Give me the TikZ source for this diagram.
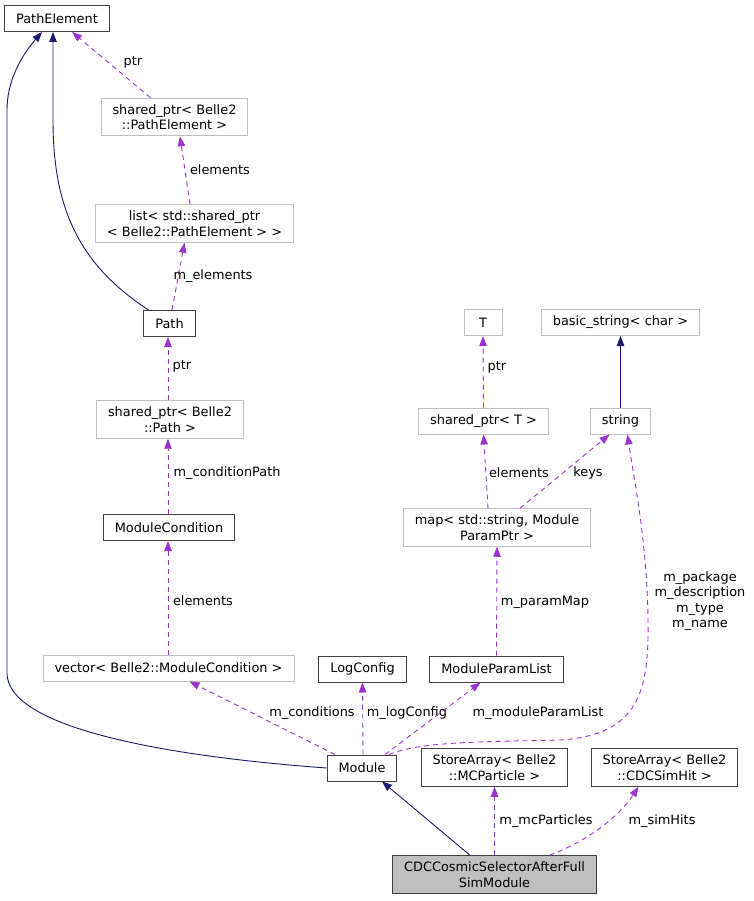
\documentclass[tikz,border=0pt]{standalone}
\usepackage{fontspec}
\setsansfont{DejaVu Sans}
\usetikzlibrary{arrows.meta, positioning}

\definecolor{edgeblue}{RGB}{25,25,112}
\definecolor{edgepurple}{RGB}{154,50,205}
\definecolor{boxgray}{RGB}{191,191,191}

\begin{document}
\begin{tikzpicture}[
  x=1pt, y=-1pt,
  font=\sffamily\fontsize{12.9}{15.5}\selectfont,
  every node/.style={align=center},
  cls/.style={draw=black!75,line width=1pt,fill=white,inner xsep=11.5pt,inner ysep=6pt,minimum height=26pt},
  ext/.style={cls,draw=boxgray},
  focus/.style={cls,fill=boxgray},
  inherit/.style={-{Triangle[length=10pt,width=7.5pt]},edgeblue,line width=0.9pt},
  uses/.style={-{Triangle[length=10pt,width=7.5pt]},edgepurple,dash pattern=on 5pt off 4pt,line width=0.9pt},
  lbl/.style={inner sep=0pt,text=black}]

  \useasboundingbox (0,0) rectangle (753,901);

  % Klassen
  \node[cls] (PathElement) at (57,18.5) {PathElement};
  \node[ext] (ShPtrElem) at (174.5,117) {shared\_ptr< Belle2\\::PathElement >};
  \node[ext] (ListElem) at (194.5,223.5) {list< std::shared\_ptr\\< Belle2::PathElement > >};
  \node[cls] (Path) at (169.5,323.5) {Path};
  \node[ext] (ShPtrPath) at (170,419.5) {shared\_ptr< Belle2\\::Path >};
  \node[cls] (ModCond) at (169,527.5) {ModuleCondition};
  \node[ext] (VecCond) at (168.5,668) {vector< Belle2::ModuleCondition >};
  \node[cls] (LogConfig) at (362.5,669) {LogConfig};
  \node[cls] (ParamList) at (496.5,669) {ModuleParamList};
  \node[cls] (Module) at (362,768) {Module};
  \node[cls] (StoreMC) at (494.5,767.5) {StoreArray< Belle2\\::MCParticle >};
  \node[cls] (StoreSim) at (664.5,767.5) {StoreArray< Belle2\\::CDCSimHit >};
  \node[focus] (Main) at (494.5,874.5) {CDCCosmicSelectorAfterFull\\SimModule};
  \node[ext,minimum width=38pt] (T) at (483,322.5) {T};
  \node[ext] (BasicStr) at (620.5,322.5) {basic\_string< char >};
  \node[ext] (ShPtrT) at (483.5,421) {shared\_ptr< T >};
  \node[ext] (String) at (620.5,421) {string};
  \node[ext] (ParamMap) at (497,527.5) {map< std::string, Module\\ParamPtr >};

  % Vererbung
  \draw[inherit] (Module.west) .. controls (150,755) and (7,725) .. (7,673)
      -- (7,110) .. controls (7,80) and (22,55) .. ([xshift=-15pt]PathElement.south);
  \draw[inherit] ([xshift=-21pt]Path.north) .. controls (80,265) and (53,210) .. (53,120)
      -- ([xshift=-4pt]PathElement.south);
  \draw[inherit] (String) -- (BasicStr);
  \draw[inherit] ([xshift=-24.5pt]Main.north) -- ([xshift=20pt]Module.south);

  % Member
  \draw[uses] ([xshift=-24pt]ShPtrElem.north) -- ([xshift=15pt]PathElement.south)
      node[lbl] at (133,62) {ptr};
  \draw[uses] ([xshift=-4.5pt]ListElem.north) -- ([xshift=5.5pt]ShPtrElem.south)
      node[lbl] at (220,170) {elements};
  \draw[uses] ([xshift=2.5pt]Path.north) -- ([xshift=-10pt]ListElem.south)
      node[lbl] at (213,276) {m\_elements};
  \draw[uses] ([xshift=-2pt]ShPtrPath.north) -- ([xshift=-1.5pt]Path.south)
      node[lbl] at (182,366) {ptr};
  \draw[uses] ([xshift=-1pt]ModCond.north) -- ([xshift=-2pt]ShPtrPath.south)
      node[lbl] at (227,473) {m\_conditionPath};
  \draw[uses] ([xshift=-0.5pt]VecCond.north) -- ([xshift=-1pt]ModCond.south)
      node[lbl] at (203,601) {elements};
  \draw[uses] ([xshift=-27pt]Module.north) -- ([xshift=21pt]VecCond.south)
      node[lbl] at (312,713) {m\_conditions};
  \draw[uses] ([xshift=1pt]Module.north) -- (LogConfig.south)
      node[lbl] at (407,713) {m\_logConfig};
  \draw[uses] ([xshift=23pt]Module.north) -- ([xshift=-16pt]ParamList.south)
      node[lbl] at (538,713) {m\_moduleParamList};
  \draw[uses] ([xshift=27pt]Module.north) .. controls (420,742) and (470,742) .. (560,740)
      .. controls (640,735) and (649,690) .. (648,620)
      .. controls (647,540) and (634,480) .. ([xshift=7pt]String.south)
      node[lbl] at (700,601) {m\_package\\m\_description\\m\_type\\m\_name};
  \draw[uses] (ParamList.north) -- (ParamMap.south)
      node[lbl] at (545,602) {m\_paramMap};
  \draw[uses] ([xshift=-9pt]ParamMap.north) -- (ShPtrT.south)
      node[lbl] at (519,473) {elements};
  \draw[uses] ([xshift=23pt]ParamMap.north) -- ([xshift=-11pt]String.south)
      node[lbl] at (588,473) {keys};
  \draw[uses] (ShPtrT.north) -- (T.south)
      node[lbl] at (497,367) {ptr};
  \draw[uses] (Main.north) -- (StoreMC.south)
      node[lbl] at (546,821) {m\_mcParticles};
  \draw[uses] ([xshift=55pt]Main.north) .. controls (590,840) and (620,815) .. ([xshift=-26pt]StoreSim.south)
      node[lbl] at (662,821) {m\_simHits};

\end{tikzpicture}
\end{document}
